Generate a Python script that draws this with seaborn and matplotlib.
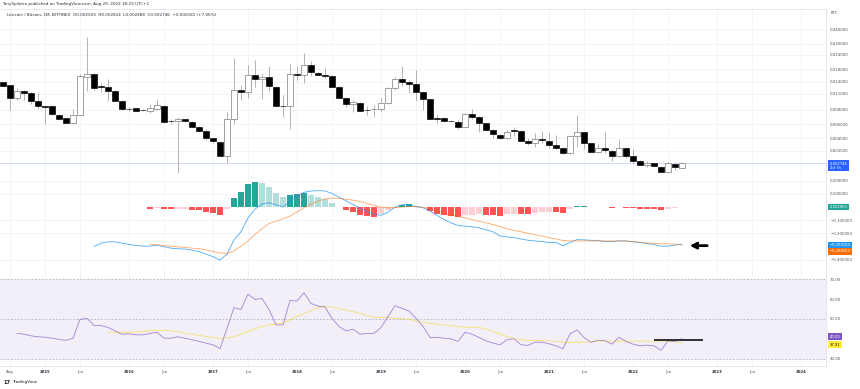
"""Litecoin / Bitcoin monthly chart with MACD and RSI panes (TradingView style)."""

import matplotlib

matplotlib.use("Agg")
import matplotlib.pyplot as plt
import numpy as np
import pandas as pd
import seaborn as sns
from matplotlib.ticker import FixedLocator, NullLocator

# Monthly candles, BITFINEX LTC/BTC
months = pd.period_range("2014-07", "2022-08", freq="M")
opens = [
    0.01386, 0.01313, 0.01018, 0.01157, 0.01112, 0.00953,
    0.00862, 0.00855, 0.00720, 0.00674, 0.00617, 0.00716, 0.01551, 0.01647, 0.01275, 0.01270, 0.01164, 0.00958,
    0.00817, 0.00828, 0.00796, 0.00780, 0.00817, 0.00862, 0.00638, 0.00638, 0.00660, 0.00630, 0.00570, 0.00522,
    0.00451, 0.00421, 0.00318, 0.00660, 0.01181, 0.01134, 0.01604, 0.01467, 0.01541, 0.01270, 0.00866, 0.00862,
    0.01647, 0.01604, 0.01960, 0.01660, 0.01604, 0.01583, 0.01270, 0.01018, 0.00892, 0.00922, 0.00796, 0.00807,
    0.00812, 0.00910, 0.01229, 0.01475, 0.01395, 0.01349, 0.01141, 0.00986, 0.00674, 0.00674, 0.00642, 0.00626,
    0.00570, 0.00727, 0.00687, 0.00608, 0.00538, 0.00482, 0.00451, 0.00529, 0.00526, 0.00428, 0.00408, 0.00448,
    0.00430, 0.00393, 0.00369, 0.00338, 0.00473, 0.00514, 0.00411, 0.00345, 0.00369, 0.00350, 0.00317, 0.00369,
    0.00318, 0.00287, 0.00264, 0.00274, 0.00255, 0.00230, 0.00270, 0.002503,
]
highs = [
    0.01395, 0.01320, 0.01229, 0.01188, 0.01134, 0.01127,
    0.00870, 0.00880, 0.00727, 0.00680, 0.00807, 0.01647, 0.03410, 0.01670, 0.01359, 0.01481, 0.01176, 0.00962,
    0.00845, 0.00836, 0.00812, 0.00897, 0.00986, 0.00880, 0.00669, 0.00687, 0.00664, 0.00634, 0.00575, 0.00547,
    0.00454, 0.00423, 0.00769, 0.02240, 0.01313, 0.01960, 0.02166, 0.01660, 0.01905, 0.01287, 0.01075, 0.02007,
    0.01905, 0.02467, 0.02123, 0.01690, 0.01860, 0.01604, 0.01287, 0.01032, 0.00972, 0.00934, 0.00862, 0.00880,
    0.01006, 0.01254, 0.01551, 0.01905, 0.01452, 0.01773, 0.01150, 0.00992, 0.00720, 0.00685, 0.00651, 0.00651,
    0.00754, 0.00807, 0.00706, 0.00612, 0.00547, 0.00487, 0.00533, 0.00563, 0.00529, 0.00451, 0.00499, 0.00526,
    0.00499, 0.00482, 0.00380, 0.00473, 0.00720, 0.00517, 0.00413, 0.00402, 0.00512, 0.00357, 0.00442, 0.00378,
    0.00361, 0.00290, 0.00288, 0.00277, 0.00259, 0.00282, 0.00274, 0.002814,
]
lows = [
    0.01287, 0.00796, 0.00972, 0.00972, 0.00897, 0.00817,
    0.00601, 0.00720, 0.00664, 0.00613, 0.00597, 0.00713, 0.01171, 0.01188, 0.01148, 0.00958, 0.00953, 0.00796,
    0.00780, 0.00776, 0.00780, 0.00745, 0.00796, 0.00620, 0.00601, 0.00227, 0.00630, 0.00563, 0.00517, 0.00433,
    0.00408, 0.00316, 0.00277, 0.00605, 0.00972, 0.01018, 0.01270, 0.00992, 0.01164, 0.00857, 0.00687, 0.00544,
    0.01452, 0.01359, 0.01573, 0.01590, 0.01502, 0.01262, 0.01012, 0.00840, 0.00769, 0.00780, 0.00716, 0.00687,
    0.00769, 0.00897, 0.01188, 0.01287, 0.01112, 0.00953, 0.00796, 0.00664, 0.00608, 0.00640, 0.00626, 0.00547,
    0.00563, 0.00660, 0.00515, 0.00535, 0.00451, 0.00448, 0.00448, 0.00473, 0.00425, 0.00395, 0.00378, 0.00408,
    0.00369, 0.00361, 0.00330, 0.00330, 0.00380, 0.00364, 0.00343, 0.00338, 0.00338, 0.00288, 0.00313, 0.00302,
    0.00277, 0.00262, 0.00255, 0.00257, 0.00227, 0.00227, 0.00239, 0.002488,
]
closes = [
    0.01290, 0.01018, 0.01164, 0.01112, 0.00953, 0.00867,
    0.00850, 0.00730, 0.00669, 0.00617, 0.00716, 0.01573, 0.01637, 0.01229, 0.01262, 0.01164, 0.00958, 0.00807,
    0.00807, 0.00780, 0.00791, 0.00828, 0.00880, 0.00626, 0.00634, 0.00664, 0.00634, 0.00570, 0.00522, 0.00451,
    0.00425, 0.00318, 0.00660, 0.01181, 0.01134, 0.01604, 0.01481, 0.01541, 0.01287, 0.00862, 0.00857, 0.01637,
    0.01615, 0.01960, 0.01714, 0.01615, 0.01583, 0.01270, 0.01018, 0.00892, 0.00928, 0.00785, 0.00791, 0.00812,
    0.00910, 0.01229, 0.01475, 0.01395, 0.01349, 0.01141, 0.00986, 0.00669, 0.00669, 0.00642, 0.00634, 0.00570,
    0.00730, 0.00687, 0.00617, 0.00538, 0.00489, 0.00451, 0.00515, 0.00522, 0.00428, 0.00408, 0.00448, 0.00436,
    0.00395, 0.00369, 0.00338, 0.00473, 0.00510, 0.00411, 0.00345, 0.00369, 0.00357, 0.00317, 0.00369, 0.00318,
    0.00287, 0.00264, 0.00277, 0.00259, 0.00230, 0.00277, 0.00252, 0.002746,
]

# MACD pane
macd_start = "2015-08"
macd_line = [
    -0.300, -0.275, -0.265, -0.265, -0.275, -0.285, -0.293, -0.298, -0.298, -0.290,
    -0.303, -0.313, -0.318, -0.320, -0.328, -0.340, -0.358, -0.378, -0.405, -0.358,
    -0.250, -0.188, -0.083, -0.015, 0.023, 0.033, 0.018, 0.000, 0.043, 0.085,
    0.113, 0.123, 0.125, 0.123, 0.105, 0.075, 0.048, 0.020, -0.008, -0.033,
    -0.053, -0.063, -0.038, 0.000, 0.018, 0.018, 0.003, -0.005, -0.030, -0.063,
    -0.095, -0.120, -0.140, -0.145, -0.150, -0.158, -0.173, -0.188, -0.220, -0.228,
    -0.233, -0.243, -0.253, -0.258, -0.263, -0.270, -0.270, -0.295, -0.270, -0.248,
    -0.250, -0.253, -0.255, -0.263, -0.263, -0.258, -0.258, -0.265, -0.270, -0.278,
    -0.285, -0.298, -0.298, -0.290, -0.283,
]
signal_start = "2016-04"
signal_line = [
    -0.285, -0.288, -0.293, -0.298, -0.303, -0.308, -0.313, -0.318, -0.325, -0.338,
    -0.350, -0.353, -0.333, -0.298, -0.258, -0.208, -0.165, -0.125, -0.108, -0.088,
    -0.068, -0.038, -0.005, 0.023, 0.045, 0.063, 0.068, 0.068, 0.060, 0.053,
    0.043, 0.028, 0.013, 0.000, -0.005, -0.005, 0.000, 0.005, 0.003, 0.000,
    -0.015, -0.028, -0.045, -0.058, -0.070, -0.083, -0.095, -0.108, -0.120, -0.133,
    -0.148, -0.165, -0.178, -0.188, -0.200, -0.210, -0.220, -0.233, -0.243, -0.255,
    -0.258, -0.258, -0.258, -0.258, -0.258, -0.258, -0.258, -0.258, -0.258, -0.263,
    -0.268, -0.273, -0.275, -0.280, -0.280, -0.283, -0.288,
]
macd_hist = [
    -0.0125, -0.005, -0.015, -0.018, -0.015, -0.014, -0.023, -0.025, -0.035, -0.043,
    -0.058, -0.015, 0.073, 0.118, 0.175, 0.190, 0.183, 0.155, 0.110, 0.075,
    0.095, 0.098, 0.108, 0.095, 0.078, 0.063, 0.035, 0.003, -0.025, -0.040,
    -0.058, -0.070, -0.073, -0.050, -0.023, -0.004, 0.015, 0.020, 0.008, -0.003,
    -0.028, -0.050, -0.063, -0.065, -0.075, -0.058, -0.057, -0.053, -0.060, -0.063,
    -0.068, -0.055, -0.050, -0.053, -0.055, -0.045, -0.040, -0.035, -0.040, -0.042,
    -0.015, 0.010, 0.011, 0.002, 0.001, 0.0005, -0.010, -0.001, -0.005, -0.010,
    -0.013, -0.014, -0.016, -0.025, -0.013, -0.005, 0.0019,
]

# RSI pane
rsi_start = "2014-09"
rsi = [
    42.7, 42.3, 41.5, 41.0, 40.8, 40.3, 39.7, 39.2, 40.3, 49.8,
    50.3, 46.7, 46.7, 45.7, 44.0, 42.3, 42.5, 42.0, 42.0, 42.7,
    43.3, 40.3, 40.3, 41.0, 40.3, 39.5, 38.7, 37.8, 37.0, 35.0,
    45.3, 55.7, 54.8, 62.5, 59.8, 60.3, 54.8, 47.0, 47.0, 59.3,
    59.0, 63.2, 57.8, 56.5, 56.0, 50.3, 46.2, 44.0, 44.8, 42.3,
    42.7, 42.7, 45.7, 51.2, 56.7, 55.3, 54.0, 50.3, 46.2, 40.7,
    40.7, 40.3, 40.0, 38.7, 43.3, 42.3, 40.7, 39.0, 37.8, 37.0,
    39.5, 40.0, 37.0, 36.7, 38.3, 38.3, 37.5, 36.5, 35.0, 42.5,
    44.5, 40.7, 38.2, 39.3, 39.0, 37.3, 40.8, 38.7, 37.3, 36.5,
    36.8, 36.5, 34.2, 39.0, 38.7, 40.0,
]
rsi_ma_start = "2015-10"
rsi_ma = [
    43.3, 43.3, 43.3, 43.3, 43.3, 43.7, 44.0, 44.2, 44.3, 44.0,
    43.5, 42.8, 42.3, 41.7, 41.2, 40.7, 40.3, 40.5, 41.2, 42.3,
    43.7, 45.0, 46.2, 47.0, 47.5, 47.8, 49.5, 51.2, 52.8, 54.2,
    55.7, 56.2, 56.0, 55.3, 54.5, 53.7, 52.8, 51.7, 50.8, 50.7,
    50.7, 50.3, 50.2, 49.8, 49.0, 48.3, 47.8, 47.3, 47.0, 46.7,
    46.2, 45.8, 45.8, 45.8, 44.8, 43.7, 42.3, 41.2, 40.3, 39.5,
    39.3, 39.2, 39.0, 39.0, 38.7, 38.3, 38.2, 38.2, 38.3, 38.5,
    38.7, 38.8, 38.8, 38.8, 38.8, 38.8, 38.8, 38.8, 38.8, 38.8,
    38.8, 38.5, 37.9,
]

# drawings on the chart
rsi_drawn_level = 39.5
rsi_drawn_span = ("2022-04", "2022-11")
arrow_level = -0.294

price_ticks = [0.04, 0.03, 0.024, 0.018, 0.014, 0.011, 0.008, 0.006, 0.0045, 0.0035]
macd_ticks = [0.2, 0.1, -0.1, -0.2, -0.4]
rsi_ticks = [70, 60, 50, 30]

W, H = 860, 389
GRID = "#eef0f4"
SEP = "#dfe2e8"
TXT = "#50535e"


def month_pos(label):
    return (pd.Period(label, "M") - months[0]).n


def px_axes(fig, x0, y0, x1, y1):
    return fig.add_axes([x0 / W, 1 - y1 / H, (x1 - x0) / W, (y1 - y0) / H])


def value_box(ax, value, text, color, text_color="white", dy=0.0):
    ax.annotate(
        text, xy=(1.0, value), xycoords=("axes fraction", "data"),
        xytext=(2.6, dy), textcoords="offset points", va="center", ha="left",
        fontsize=2.7, color=text_color, annotation_clip=False,
        bbox=dict(boxstyle="square,pad=0.35", fc=color, ec="none"),
    )


sns.set_style("white")
plt.rcParams["font.family"] = ["DejaVu Sans"]

fig = plt.figure(figsize=(W / 100, H / 100), dpi=100)
ax_p = px_axes(fig, 0, 9, 826, 172.5)
ax_m = px_axes(fig, 0, 172.5, 826, 269.5)
ax_r = px_axes(fig, 0, 269.5, 826, 366)

axis_months = pd.period_range("2014-07", "2024-05", freq="M")
tick_pos, tick_lab = [], []
for k, m in enumerate(axis_months):
    if k == 1:
        tick_pos.append(k)
        tick_lab.append(m.strftime("%b"))
    elif m.month == 1:
        tick_pos.append(k)
        tick_lab.append(str(m.year))
    elif m.month == 6:
        tick_pos.append(k)
        tick_lab.append("Jun")

x_lo, x_hi = -3 / 7, 823 / 7
for ax in (ax_p, ax_m, ax_r):
    ax.set_xlim(x_lo, x_hi)
    ax.xaxis.set_major_locator(FixedLocator(tick_pos))
    ax.yaxis.tick_right()
    ax.tick_params(axis="both", length=0, labelsize=2.8, colors=TXT, pad=3)
    ax.grid(True, color=GRID, lw=0.5)
    ax.set_axisbelow(True)
    for side in ("left", "top"):
        ax.spines[side].set_visible(False)
    for side in ("right", "bottom"):
        ax.spines[side].set_color(SEP)
        ax.spines[side].set_linewidth(0.6)
    ax.set_xlabel("")
    ax.set_ylabel("")
ax_p.tick_params(axis="x", labelbottom=False)
ax_m.tick_params(axis="x", labelbottom=False)

# ---- price pane
x = np.arange(len(months))
o, h, l, c = map(np.array, (opens, highs, lows, closes))
bull = c >= o
ax_p.vlines(x, l, h, color="#8a8a8a", lw=0.45, zorder=2)
body_lo = np.minimum(o, c)
body_hi = np.maximum(o, c)
ax_p.bar(x[bull], body_hi[bull] - body_lo[bull], bottom=body_lo[bull], width=0.72,
         color="white", edgecolor="#6f6f6f", linewidth=0.45, zorder=3)
ax_p.bar(x[~bull], body_hi[~bull] - body_lo[~bull], bottom=body_lo[~bull], width=0.72,
         color="black", edgecolor="black", linewidth=0.45, zorder=3)
ax_p.set_yscale("log")
ax_p.set_ylim(0.002275, 0.0601)
ax_p.yaxis.set_major_locator(FixedLocator(price_ticks))
ax_p.yaxis.set_minor_locator(NullLocator())
ax_p.set_yticklabels([f"{v:.6f}" for v in price_ticks])
ax_p.axhline(closes[-1], color="#2962ff", alpha=0.3, lw=0.5, zorder=1)
ax_p.spines["top"].set_visible(True)
ax_p.spines["top"].set_color(SEP)
ax_p.spines["top"].set_linewidth(0.5)
value_box(ax_p, closes[-1], f"{closes[-1]:.6f}\n2d 7h", "#2962ff", dy=-2.0)
ax_p.text(1.005, 0.975, "BTC", transform=ax_p.transAxes, fontsize=2.7, color=TXT,
          ha="left", va="center")

# ---- MACD pane
hx = np.arange(len(macd_hist)) + month_pos(signal_start)
hv = np.array(macd_hist)
prev = np.concatenate([[0.0], hv[:-1]])
hcol = np.where(hv >= 0, np.where(hv > prev, "#26a69a", "#b2dfdb"),
                np.where(hv < prev, "#ff5252", "#ffcdd2"))
ax_m.bar(hx, hv, width=0.86, color=hcol, linewidth=0, zorder=2)
mx = np.arange(len(macd_line)) + month_pos(macd_start)
sx = np.arange(len(signal_line)) + month_pos(signal_start)
sns.lineplot(x=mx, y=macd_line, ax=ax_m, color="#2196f3", lw=0.6, alpha=0.8, zorder=3)
sns.lineplot(x=sx, y=signal_line, ax=ax_m, color="#ff6d00", lw=0.6, alpha=0.6, zorder=3)
ax_m.set_ylim(-0.476, 0.264)
ax_m.yaxis.set_major_locator(FixedLocator(macd_ticks))
ax_m.set_yticklabels([f"{v:.6f}".replace("-", "\u2212") for v in macd_ticks])
value_box(ax_m, macd_hist[-1], f"{macd_hist[-1]:.6f}", "#26a69a")
value_box(ax_m, macd_line[-1], "\u22120.283163", "#2196f3", dy=-0.6)
value_box(ax_m, signal_line[-1], "\u22120.288053", "#ff6d00", dy=-4.6)
ax_m.annotate("", xy=(len(months) + 0.1, arrow_level), xytext=(len(months) + 2.6, arrow_level),
              arrowprops=dict(arrowstyle="->", lw=2.0, color="black", mutation_scale=9,
                              shrinkA=0, shrinkB=0))

# ---- RSI pane
ax_r.axhspan(30, 70, color="#7e57c2", alpha=0.09, lw=0, zorder=0)
for lvl in (70, 50, 30):
    ax_r.axhline(lvl, color="#9598a1", lw=0.5, ls=(0, (2.5, 2.5)), alpha=0.8, zorder=1)
rx = np.arange(len(rsi)) + month_pos(rsi_start)
ax_ = np.arange(len(rsi_ma)) + month_pos(rsi_ma_start)
sns.lineplot(x=ax_, y=rsi_ma, ax=ax_r, color="#f7dc3c", lw=0.6, alpha=0.75, zorder=3)
sns.lineplot(x=rx, y=rsi, ax=ax_r, color="#7e57c2", lw=0.6, alpha=0.7, zorder=4)
ax_r.hlines(rsi_drawn_level, month_pos(rsi_drawn_span[0]), month_pos(rsi_drawn_span[1]),
            color="#1e222d", lw=1.3, zorder=5)
ax_r.set_ylim(26.3, 74.9)
ax_r.yaxis.set_major_locator(FixedLocator(rsi_ticks))
ax_r.set_yticklabels([f"{v:.2f}" for v in rsi_ticks])
value_box(ax_r, rsi[-1], f"{rsi[-1]:.2f}", "#7e57c2", dy=1.6)
value_box(ax_r, rsi_ma[-1], "37.91", "#ffeb3b", text_color="#131722", dy=-1.2)
ax_r.set_xticklabels(tick_lab)
for t in ax_r.get_xticklabels():
    if t.get_text().isdigit():
        t.set_fontweight("bold")
        t.set_color("#2a2e39")

# ---- header and footer
fig.text(2 / W, 1 - 4.5 / H, "TonySpilotro published on TradingView.com, Aug 29, 2022 18:23 UTC+1",
         fontsize=3.0, color="#2a2e39", va="center", ha="left")
fig.text(7 / W, 1 - 15.5 / H,
         "Litecoin / Bitcoin, 1M, BITFINEX  O0.002503  H0.002814  L0.002488  C0.002746  +0.000181 (+7.06%)",
         fontsize=3.0, color="#2a2e39", va="center", ha="left")
fig.text(3 / W, 1 - 382 / H, "17", fontsize=3.6, fontweight="bold", color="#131722", va="center")
fig.text(12 / W, 1 - 382 / H, "TradingView", fontsize=3.0, color="#131722", va="center")

fig.savefig("out.png", dpi=100)
